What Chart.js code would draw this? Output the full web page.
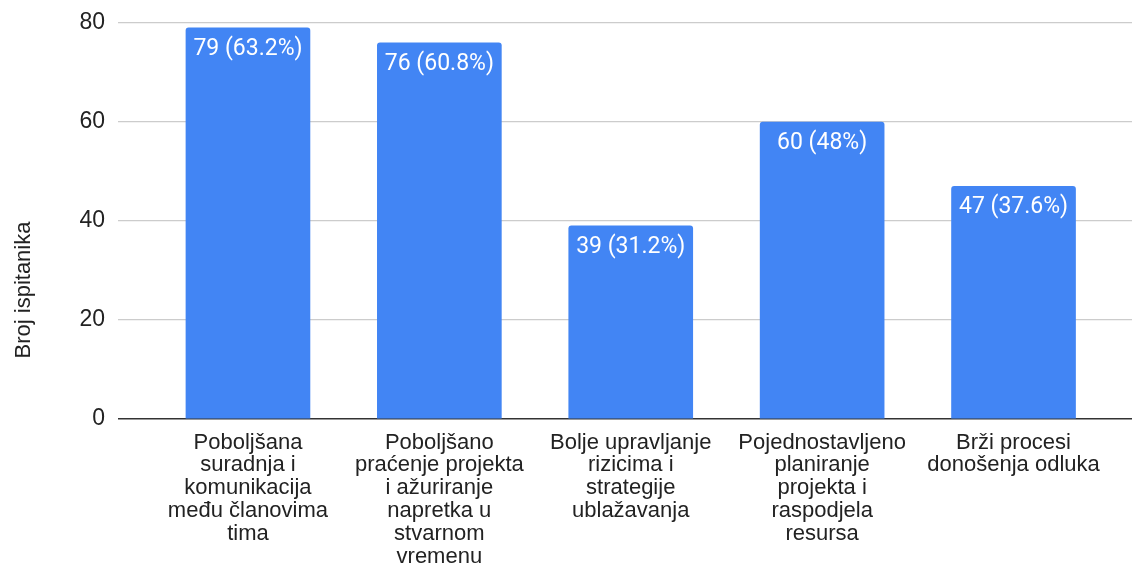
<!DOCTYPE html>
<html>
<head>
<meta charset="utf-8">
<script src="https://cdn.jsdelivr.net/npm/chart.js@4/dist/chart.umd.min.js"></script>
<style>
  html, body { margin: 0; padding: 0; background: #fff; }
  #wrap { width: 1132px; height: 565px; }
</style>
</head>
<body>
<div id="wrap"><canvas id="grafico"></canvas></div>
<script>
// kategorije (već prelomljene u redove kao na slici)
const kategorije = [
  ['Poboljšana', 'suradnja i', 'komunikacija', 'među članovima', 'tima'],
  ['Poboljšano', 'praćenje projekta', 'i ažuriranje', 'napretka u', 'stvarnom', 'vremenu'],
  ['Bolje upravljanje', 'rizicima i', 'strategije', 'ublažavanja'],
  ['Pojednostavljeno', 'planiranje', 'projekta i', 'raspodjela', 'resursa'],
  ['Brži procesi', 'donošenja odluka']
];
const brojIspitanika = [79, 76, 39, 60, 47];
const postotak = [63.2, 60.8, 31.2, 48, 37.6];
const yTicks = [0, 20, 40, 60, 80];
const naslovY = 'Broj ispitanika';

const fontOs = 'Arial, "Liberation Sans", sans-serif';

// oznake unutar stupaca + naslov osi y (centriran po cijeloj visini kao na slici)
const oznakePlugin = {
  id: 'oznake',
  afterDatasetsDraw(chart) {
    const ctx = chart.ctx;
    const meta = chart.getDatasetMeta(0);
    ctx.save();
    ctx.fillStyle = '#ffffff';
    ctx.font = '23px Roboto, sans-serif';
    ctx.textAlign = 'center';
    ctx.textBaseline = 'middle';
    meta.data.forEach((bar, i) => {
      ctx.fillText(brojIspitanika[i] + ' (' + postotak[i] + '%)', bar.x, bar.y + 21);
    });
    ctx.restore();
  },
  afterDraw(chart) {
    const ctx = chart.ctx;
    ctx.save();
    ctx.translate(24, 290);
    ctx.rotate(-Math.PI / 2);
    ctx.fillStyle = '#222';
    ctx.font = '22px ' + fontOs;
    ctx.textAlign = 'center';
    ctx.textBaseline = 'middle';
    ctx.fillText(naslovY, 0, 0);
    ctx.restore();
  }
};

new Chart(document.getElementById('grafico'), {
  type: 'bar',
  data: {
    datasets: [{
      data: brojIspitanika.map((v, i) => ({ x: i, y: v })),
      backgroundColor: '#4285f4',
      borderWidth: 0,
      borderRadius: 3,
      barThickness: 124
    }]
  },
  options: {
    responsive: true,
    maintainAspectRatio: false,
    animation: false,
    layout: { padding: { top: 23, left: 0, right: 0, bottom: 0 } },
    plugins: {
      legend: { display: false },
      tooltip: { enabled: false }
    },
    scales: {
      x: {
        type: 'linear',
        offset: false,
        min: -0.679,
        max: 4.619,
        afterBuildTicks: (scale) => {
          scale.ticks = kategorije.map((_, i) => ({ value: i }));
        },
        afterFit: (scale) => { scale.height = 146; },
        grid: { display: false, drawTicks: false },
        border: { display: false },
        ticks: {
          autoSkip: false,
          maxRotation: 0,
          padding: 12,
          color: '#222',
          font: { family: fontOs, size: 22, lineHeight: 1.04 },
          callback: (value) => kategorije[value]
        }
      },
      y: {
        min: 0,
        max: 80,
        afterBuildTicks: (scale) => {
          scale.ticks = yTicks.map(v => ({ value: v }));
        },
        afterFit: (scale) => {
          scale.width = 118;
          scale.paddingTop = 0;
          scale.paddingBottom = 0;
        },
        grid: {
          drawTicks: false,
          color: (c) => c.tick && c.tick.value === 0 ? '#333333' : '#cccccc',
          lineWidth: (c) => c.tick && c.tick.value === 0 ? 1.5 : 1.2
        },
        border: { display: false },
        ticks: {
          padding: 13,
          color: '#222',
          font: { family: fontOs, size: 23, lineHeight: 1 }
        }
      }
    }
  },
  plugins: [oznakePlugin]
});
</script>
</body>
</html>
